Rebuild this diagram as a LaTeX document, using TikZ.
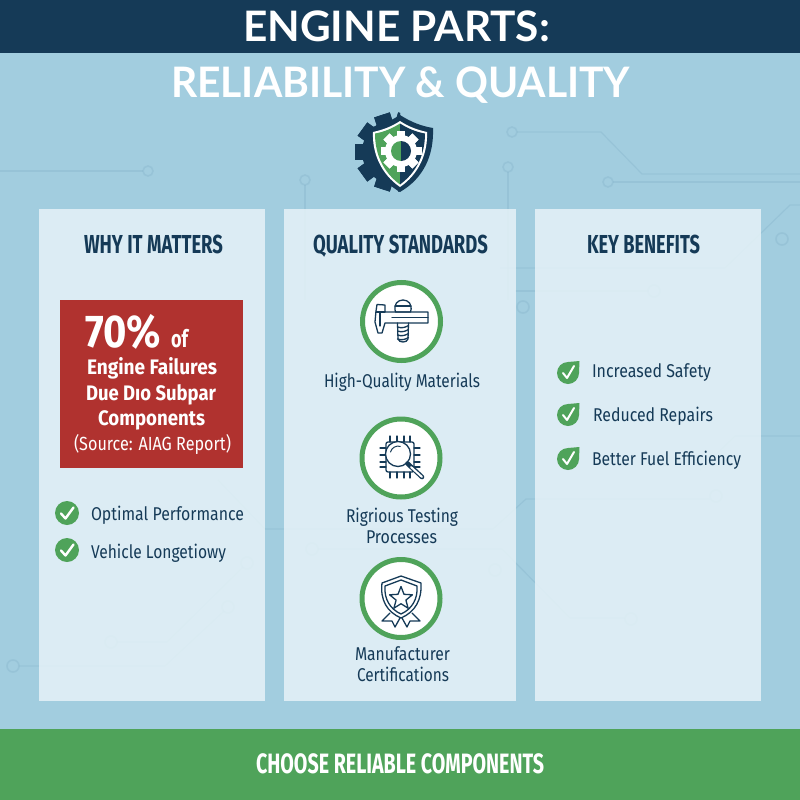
\documentclass[tikz,border=0pt]{standalone}
\usepackage{fontspec}
\usepackage{graphicx}
\usetikzlibrary{calc}
\newfontfamily\titlef{Lato}
\newfontfamily\bodyf{Fira Sans}
\definecolor{bgblue}{HTML}{A2CDDF}
\definecolor{navy}{HTML}{153A57}
\definecolor{okgreen}{HTML}{4FA35A}
\definecolor{barred}{HTML}{B0322F}
\definecolor{trace}{HTML}{8DBBD0}
\definecolor{panelfill}{HTML}{E9F4F9}
\newcommand{\fitw}[2]{\setbox0=\hbox{#2}\pgfmathparse{#1/\the\wd0}\scalebox{\pgfmathresult}[1]{\box0}}
\newcommand{\gearat}[7]{% x y r-body r-tooth colour teeth offset
  \fill[#5] (#1,#2) circle[radius=#3];
  \foreach \ga in {1,...,#6}{
    \fill[#5,rotate around={\ga*360/#6+#7:(#1,#2)}] ($(#1,#2)+(-#4*0.21,-#4)$) rectangle ($(#1,#2)+(#4*0.21,#4)$);
  }}
\tikzset{
  x=1pt,y=-1pt,
  txt/.style={anchor=base,inner sep=0,outer sep=0},
  panel/.style={fill=panelfill,fill opacity=0.82},
  wire/.style={draw=trace,line width=1.2pt,opacity=0.5},
  pad/.style={draw=trace,line width=1.6pt,opacity=0.5},
  ttl/.style={txt,text=white,font=\titlef\bfseries\fontsize{42}{42}\selectfont},
  hd/.style={txt,text=navy,font=\bodyf\bfseries\fontsize{26}{26}\selectfont},
  bd/.style={txt,text=navy,font=\bodyf\fontsize{18.5}{18.5}\selectfont},
  rd/.style={txt,text=white,font=\bodyf\bfseries\fontsize{21}{21}\selectfont},
  icon/.style={draw=navy,line width=1.3pt,line join=round,line cap=round},
  ring/.style={draw=okgreen,fill=white,line width=5pt},
  tick/.style={draw=white,line width=2.4pt,line join=round,line cap=round},
}
\begin{document}
\begin{tikzpicture}
\useasboundingbox (0,0) rectangle (800,800);
\fill[bgblue] (0,0) rectangle (800,800);
% circuit traces in the background
\draw[wire] (0,171) -- (143,171);
\draw[pad] (148,171) circle[radius=5];
\draw[wire] (517,132) -- (601,132) -- (642,174) -- (800,174);
\draw[pad] (512,132) circle[radius=5];
\draw[wire] (613,182) -- (800,182);
\draw[pad] (608,182) circle[radius=5];
\draw[wire] (305,185) -- (305,300);
\draw[pad] (305,180) circle[radius=5];
\draw[wire] (508,172) -- (508,300);
\draw[pad] (508,167) circle[radius=5];
\draw[wire] (500,268) -- (725,268) -- (790,205) -- (800,205);
\draw[pad] (782,239) circle[radius=6];
\draw[wire] (515,291) -- (649,291);
\draw[pad] (654,291) circle[radius=6];
\draw[pad] (523,307) circle[radius=6];
\draw[wire] (800,436) -- (735,436) -- (700,470);
\draw[wire] (19,666) -- (165,666) -- (224,611);
\draw[pad] (13,666) circle[radius=6];
\draw[pad] (228,607) circle[radius=6];
\draw[wire] (117,642) -- (167,642) -- (243,567);
\draw[pad] (111,642) circle[radius=6];
\draw[pad] (247,563) circle[radius=6];
\draw[wire] (218,480) -- (265,529) -- (493,529) -- (526,499) -- (710,499);
\draw[pad] (716,496) circle[radius=6];
\draw[wire] (318,549) -- (502,549) -- (570,618) -- (625,618);
\draw[pad] (312,549) circle[radius=6];
\draw[pad] (631,619) circle[radius=6];
\draw[pad] (495,570) circle[radius=6];
% bands
\fill[navy] (0,0) rectangle (800,53);
\fill[okgreen] (0,729) rectangle (800,800);
% panels
\fill[panel] (39,209) rectangle (265,701);
\fill[panel] (284,209) rectangle (516,701);
\fill[panel] (535,209) rectangle (761,701);
% titles
\node[ttl] (t1) at (396.5,42) {\fitw{307}{ENGINE PARTS:}};
\node[ttl] (t2) at (400.5,97) {\fitw{459}{RELIABILITY \& QUALITY}};
% logo: gear behind shield
\begin{scope}
\clip (345,105) rectangle (400,200);
\gearat{394}{152}{32}{39}{navy}{10}{18}
\end{scope}
\fill[navy] (400,115) .. controls (411,122) and (421,126) .. (433,128) .. controls (434,155) and (424,178) .. (400,192) .. controls (376,178) and (366,155) .. (367,128) .. controls (379,126) and (389,122) .. (400,115) -- cycle;
\fill[white] (400,121) .. controls (409,127) and (418,130) .. (427,132) .. controls (428,153) and (419,174) .. (400,187) .. controls (381,174) and (372,153) .. (373,132) .. controls (382,130) and (391,127) .. (400,121) -- cycle;
\fill[okgreen] (400,123.5) .. controls (392,128.5) and (384,132) .. (375,133.5) .. controls (375,154) and (383,172) .. (400,184.5) -- cycle;
\fill[navy] (400,123.5) .. controls (408,128.5) and (416,132) .. (425,133.5) .. controls (425,154) and (417,172) .. (400,184.5) -- cycle;
\gearat{401}{151}{16}{20.5}{white}{8}{0}
\fill[okgreen] (401,141) arc[start angle=-90,end angle=-270,radius=10] -- cycle;
\fill[navy] (401,141) arc[start angle=-90,end angle=90,radius=10] -- cycle;
% headings
\node[hd] (h1) at (153.5,253) {\fitw{139}{WHY IT MATTERS}};
\node[hd] (h2) at (400.5,253) {\fitw{175}{QUALITY STANDARDS}};
\node[hd] (h3) at (643.5,253) {\fitw{113}{KEY BENEFITS}};
% red box
\fill[barred] (60,299.5) rectangle (243,468);
\node[txt,anchor=base west,text=white,font=\bodyf\bfseries\fontsize{46}{46}\selectfont] (pct) at (85,347) {\fitw{76}{70\%}};
\node[txt,anchor=base west,text=white,font=\bodyf\bfseries\fontsize{24}{24}\selectfont] (of) at (171,347) {\fitw{17}{of}};
\node[rd] (r1) at (152,374) {\fitw{130}{Engine Failures}};
\node[rd] (r2) at (151,400) {\fitw{130}{Due Dıo Subpar}};
\node[rd] (r3) at (151.5,425) {\fitw{107}{Components}};
\node[txt,text=white,font=\bodyf\fontsize{19}{19}\selectfont] (r4) at (152.5,450) {\fitw{157}{(Source: AIAG Report)}};
% left checks
\fill[okgreen] (67,513) circle[radius=12];
\draw[tick] (61,513.5) -- (65.5,518.5) -- (73.5,507.5);
\fill[okgreen] (67,550) circle[radius=12];
\draw[tick] (61,550.5) -- (65.5,555.5) -- (73.5,544.5);
\node[bd] (l1) at (167.5,520) {\fitw{153}{Optimal Performance}};
\node[bd] (l2) at (158.5,558) {\fitw{135}{Vehicle Longetiowy}};
% right checks
\foreach \cy in {373,415,459}{
  \fill[okgreen] (568,\cy) circle[radius=11];
  \fill[okgreen] (568,\cy-11) -- (579.5,\cy-12) -- (579,\cy) -- cycle;
  \draw[draw=white,line width=2pt,line join=round,line cap=round] (563,\cy) -- (567,\cy+5) -- (574,\cy-7);
}
\node[bd] (b1) at (651.5,377) {\fitw{119}{Increased Safety}};
\node[bd] (b2) at (653,421) {\fitw{120}{Reduced Repairs}};
\node[bd] (b3) at (666.5,465) {\fitw{149}{Better Fuel Efficiency}};
% icon circles
\draw[ring] (401.5,321.5) circle[radius=39];
\draw[ring] (401,458) circle[radius=39];
\draw[ring] (401,598.5) circle[radius=39];
% icon 1: caliper and screw
\draw[icon] (397.5,323) -- (398,339) .. controls (399,343) and (407,343) .. (408,339) -- (408.5,323);
\foreach \ty in {327,331,335,339}{\draw[icon] (397.5,\ty) .. controls (402,\ty+1.5) and (405,\ty+0.5) .. (408.5,\ty-1.5);}
\draw[icon] (395.5,312) .. controls (393,304) and (398,300) .. (403,300) .. controls (408,300) and (413,304) .. (410.5,312) -- cycle;
\draw[icon] (395,306) -- (411,306);
\draw[icon] (428,312) -- (385,312) -- (385,305) -- (377,304.5) -- (376,311) -- (375,322) -- (378,333) -- (382,333) -- (385,323) -- (428,323) -- cycle;
\draw[icon] (380,312) -- (380,326);
\draw[icon] (376,312) -- (385,312);
\draw[icon] (392,317.5) -- (428,317.5);
% icon 2: chip and magnifier
\draw[icon,rounded corners=2pt] (386,442) rectangle (414,472);
\foreach \px in {390,397,404,410}{\draw[icon] (\px,442) -- (\px,436); \draw[icon] (\px,472) -- (\px,478);}
\foreach \py in {448,455,462,467}{\draw[icon] (386,\py) -- (380,\py); \draw[icon] (414,\py) -- (420,\py);}
\fill[white] (398,454) circle[radius=12.5];
\draw[icon] (398,454) circle[radius=12.5];
\draw[icon,line width=1pt] (390.5,452) arc[start angle=195,end angle=285,radius=8];
\draw[icon,line width=4.6pt] (407.5,463.5) -- (422,477);
\draw[draw=white,line width=2pt,line cap=round] (411,467) -- (422,477);
% icon 3: shield, star, ribbons
\draw[icon] (390,613) -- (382,621) -- (392,621) -- (395,627) -- (400,618);
\draw[icon] (412,613) -- (420,621) -- (410,621) -- (407,627) -- (402,618);
\fill[white,draw=navy,line width=1.3pt,line join=round] (401,576) -- (421,583) .. controls (422,600) and (415,612) .. (401,618) .. controls (387,612) and (380,600) .. (382,583) -- cycle;
\draw[icon] (401,580) -- (417,586) .. controls (418,599) and (412,609) .. (401,614) .. controls (390,609) and (384,599) .. (385,586) -- cycle;
\draw[icon] (401.0,586.5) -- (404.0,594.3) -- (412.4,594.8) -- (405.9,600.1) -- (408.1,608.2) -- (401.0,603.7) -- (393.9,608.2) -- (396.1,600.1) -- (389.6,594.8) -- (398.0,594.3) -- cycle;
% middle captions
\node[bd] (m1) at (402,387) {\fitw{156}{High-Quality Materials}};
\node[bd] (m2) at (402,522) {\fitw{112}{Rigrious Testing}};
\node[bd] (m3) at (401.5,543) {\fitw{71}{Processes}};
\node[bd] (m4) at (402.5,660) {\fitw{95}{Manufacturer}};
\node[bd] (m5) at (403,681) {\fitw{92}{Certifications}};
% footer
\node[txt,text=white,font=\bodyf\bfseries\fontsize{28}{28}\selectfont] (foot) at (400,773) {\fitw{288}{CHOOSE RELIABLE COMPONENTS}};
\end{tikzpicture}
\end{document}
